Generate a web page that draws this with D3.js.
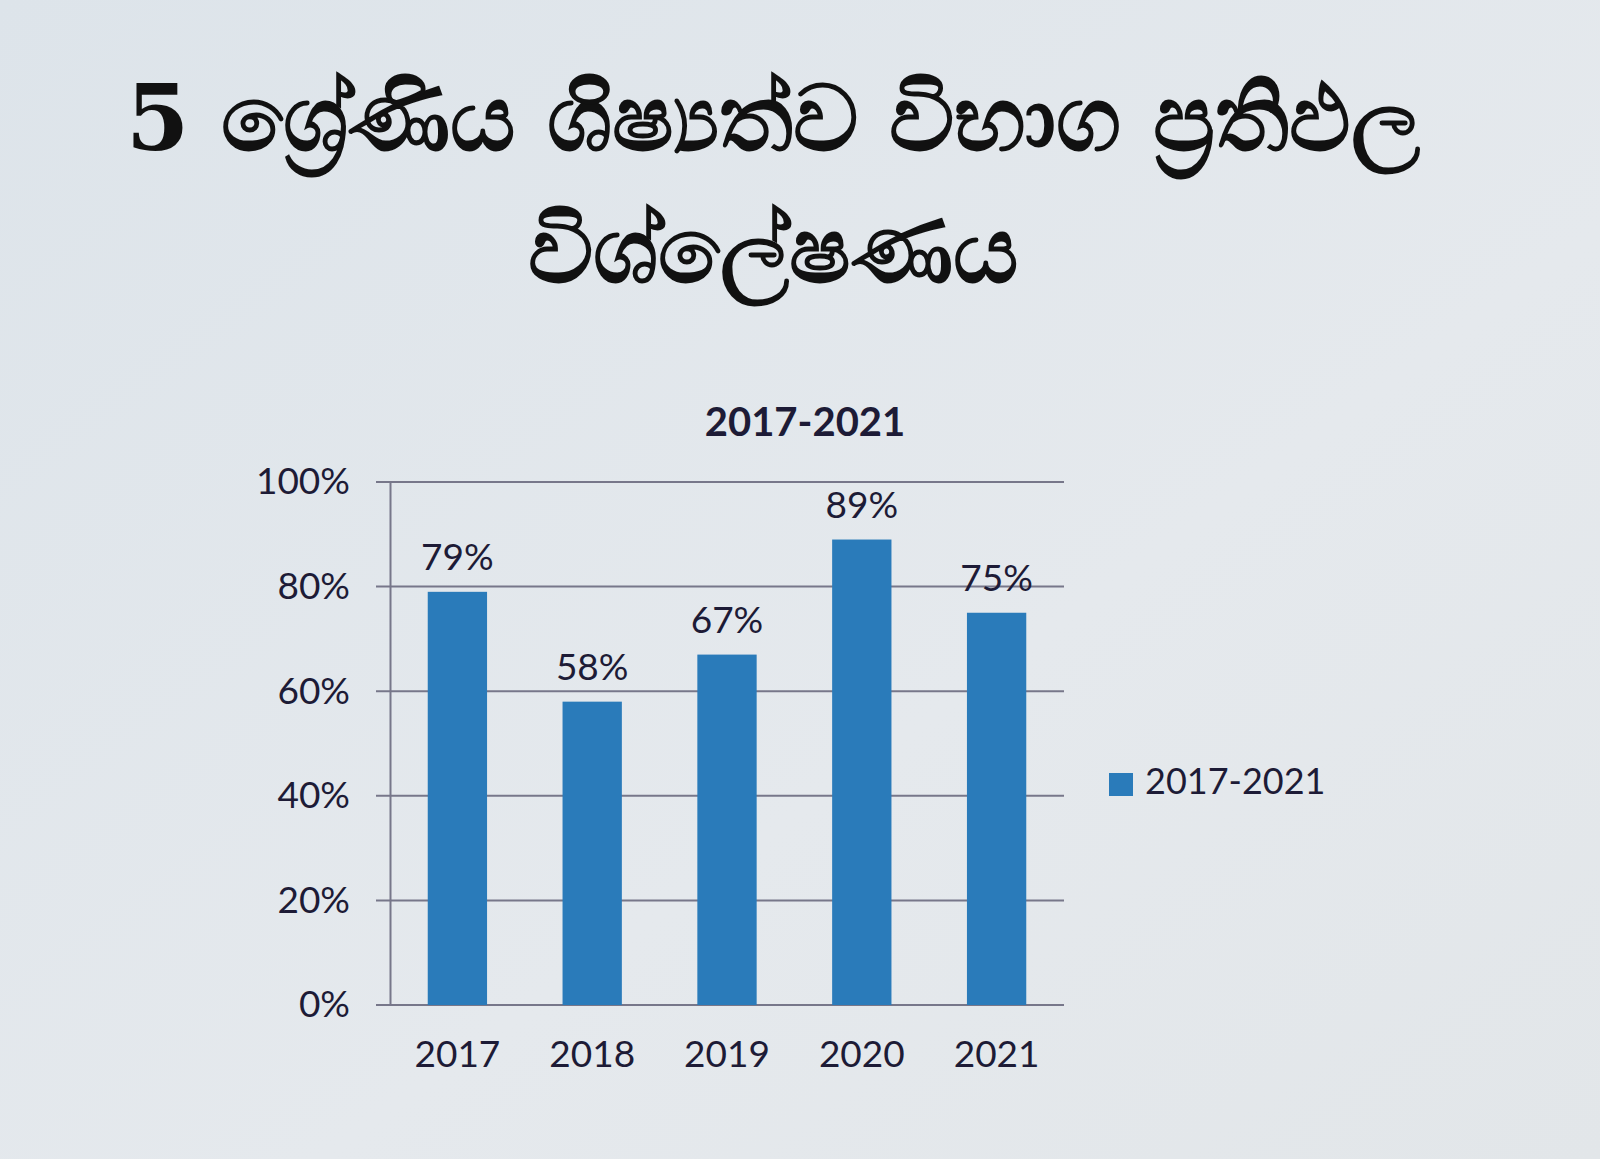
<!DOCTYPE html>
<html>
<head>
<meta charset="utf-8">
<script src="https://cdn.jsdelivr.net/npm/d3@7"></script>
<style>
  html, body { margin: 0; padding: 0; background: #e2e7eb; }
  svg { display: block; }
</style>
</head>
<body>
<svg id="chart" width="1600" height="1159"></svg>
<script>
// ---- data ----
const titleLines = ["5 ශ්‍රේණිය ශිෂ්‍යත්ව විභාග ප්‍රතිඵල", "විශ්ලේෂණය"];
const chartTitle = "2017-2021";
const categories = ["2017", "2018", "2019", "2020", "2021"];
const values = [0.79, 0.58, 0.67, 0.89, 0.75];
const valueLabels = ["79%", "58%", "67%", "89%", "75%"];
const yTicks = [0, 0.2, 0.4, 0.6, 0.8, 1.0];
const yTickLabels = ["0%", "20%", "40%", "60%", "80%", "100%"];
const seriesName = "2017-2021";

// ---- layout ----
const svg = d3.select("#chart");
const W = 1600, H = 1159;
const plot = { left: 390, right: 1064, top: 482, bottom: 1005 };
const barColor = "#2a7bba";
const textColor = "#1d1b36";
const gridColor = "#77778a";
const axisFont = "Lato, 'Open Sans', sans-serif";

// background
const defs = svg.append("defs");
const grad = defs.append("linearGradient").attr("id", "bg").attr("x1", 0).attr("y1", 0).attr("x2", 1).attr("y2", 1);
grad.append("stop").attr("offset", "0%").attr("stop-color", "#dde4ea");
grad.append("stop").attr("offset", "60%").attr("stop-color", "#e5e9ed");
grad.append("stop").attr("offset", "100%").attr("stop-color", "#e2e6e9");
svg.append("rect").attr("width", W).attr("height", H).attr("fill", "url(#bg)");

// main title
svg.append("g").selectAll("text").data(titleLines).join("text")
  .attr("x", 773)
  .attr("y", (d, i) => i === 0 ? 150 : 282)
  .attr("text-anchor", "middle")
  .attr("font-family", "'DejaVu Serif', 'Liberation Serif', serif")
  .attr("font-weight", "bold")
  .attr("font-size", 91)
  .attr("fill", "#111")
  .text(d => d);

// chart title
svg.append("text")
  .attr("x", 805).attr("y", 436)
  .attr("text-anchor", "middle")
  .attr("font-family", axisFont)
  .attr("font-weight", "bold")
  .attr("font-size", 40)
  .attr("fill", textColor)
  .text(chartTitle);

// scales
const x = d3.scaleBand().domain(categories).range([plot.left, plot.right]).paddingInner(0.56).paddingOuter(0.28);
const y = d3.scaleLinear().domain([0, 1]).range([plot.bottom, plot.top]);

// gridlines
svg.append("g").selectAll("line").data(yTicks).join("line")
  .attr("x1", plot.left - 14).attr("x2", plot.right)
  .attr("y1", d => y(d)).attr("y2", d => y(d))
  .attr("stroke", gridColor).attr("stroke-width", 2);

// y axis
const yAxis = d3.axisLeft(y).tickValues(yTicks).tickFormat((d, i) => yTickLabels[i]).tickSize(0).tickPadding(40);
const gy = svg.append("g").attr("transform", `translate(${plot.left},0)`).call(yAxis);
gy.select(".domain").attr("stroke", gridColor).attr("stroke-width", 2);
gy.selectAll("text").attr("font-family", axisFont).attr("font-size", 37).attr("fill", textColor);

// x axis
const xAxis = d3.axisBottom(x).tickSize(0).tickPadding(36);
const gx = svg.append("g").attr("transform", `translate(0,${plot.bottom})`).call(xAxis);
gx.select(".domain").remove();
gx.selectAll("text").attr("font-family", axisFont).attr("font-size", 37).attr("fill", textColor);

// bars
const data = categories.map((c, i) => ({ c, v: values[i], l: valueLabels[i] }));
svg.append("g").selectAll("rect").data(data).join("rect")
  .attr("x", d => x(d.c)).attr("width", x.bandwidth())
  .attr("y", d => y(d.v)).attr("height", d => y(0) - y(d.v))
  .attr("fill", barColor);

// value labels
svg.append("g").selectAll("text").data(data).join("text")
  .attr("x", d => x(d.c) + x.bandwidth() / 2)
  .attr("y", d => y(d.v) - 22)
  .attr("text-anchor", "middle")
  .attr("font-family", axisFont).attr("font-size", 37).attr("fill", textColor)
  .text(d => d.l);

// legend
const lg = svg.append("g").attr("transform", "translate(1109,773)");
lg.append("rect").attr("width", 24).attr("height", 23).attr("fill", barColor);
lg.append("text").attr("x", 36).attr("y", 12).attr("dominant-baseline", "middle")
  .attr("font-family", axisFont).attr("font-size", 36).attr("fill", textColor)
  .text(seriesName);
</script>
</body>
</html>
